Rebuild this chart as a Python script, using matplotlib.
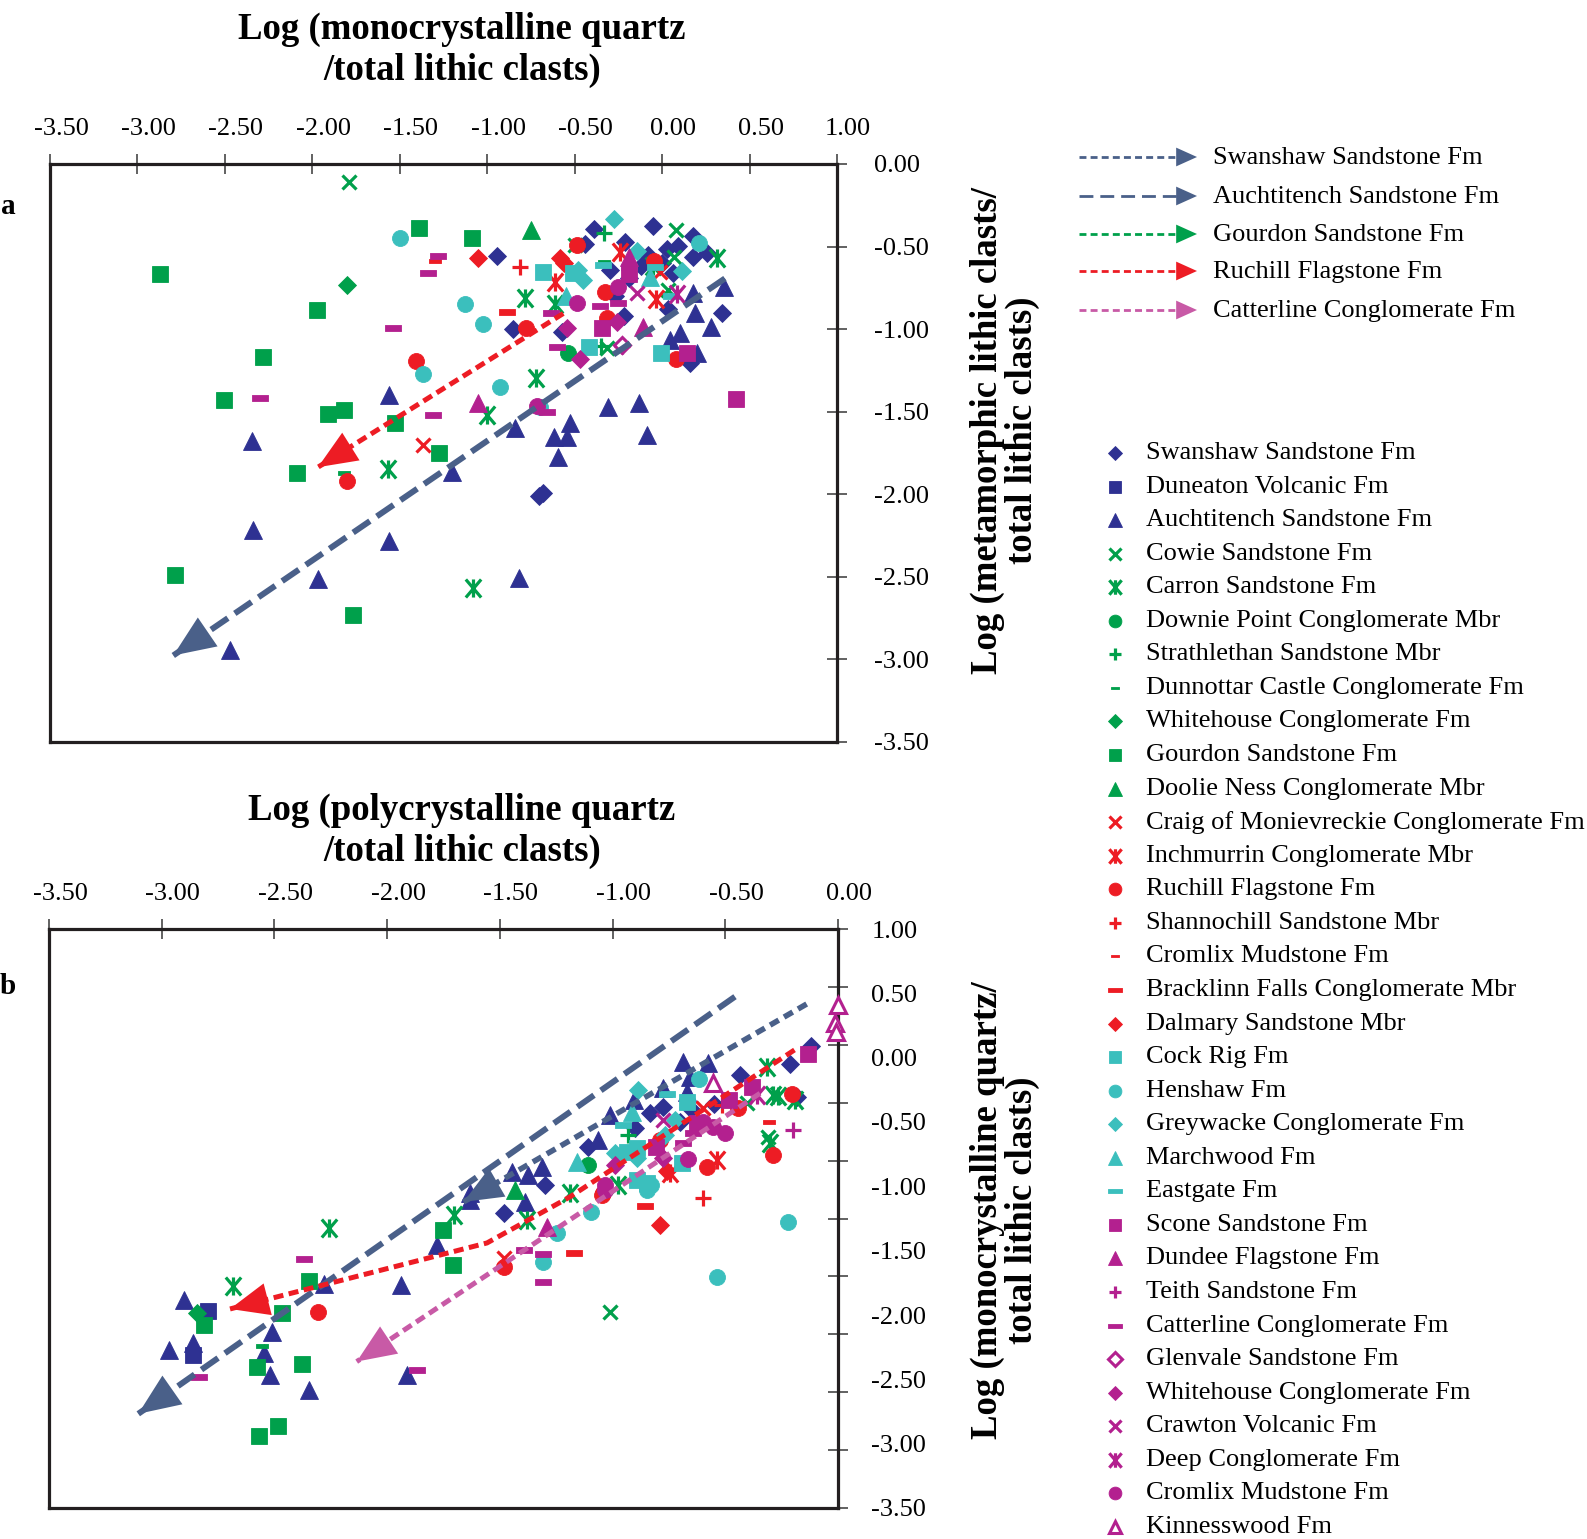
import numpy as np
import matplotlib
matplotlib.use('Agg')
import matplotlib.pyplot as plt
from matplotlib.path import Path
from matplotlib.transforms import ScaledTranslation

plt.rcParams['font.family'] = ['Liberation Serif', 'DejaVu Serif']

NAVY = '#2e3192'
GREEN = '#00a04b'
RED = '#ed1c24'
CYAN = '#3bbfbd'
MAGENTA = '#b3208f'
SLATE = '#4a6089'
PINK = '#c85aa6'

DASH = Path([(-1, -0.32), (1, -0.32), (1, 0.32), (-1, 0.32), (-1, -0.32)],
            [Path.MOVETO, Path.LINETO, Path.LINETO, Path.LINETO, Path.CLOSEPOLY])
# x with a vertical bar through it
AST = Path([(-0.85, -1), (0.85, 1), (-0.85, 1), (0.85, -1), (0, -1), (0, 1)],
           [Path.MOVETO, Path.LINETO, Path.MOVETO, Path.LINETO, Path.MOVETO, Path.LINETO])

# ---- panel a: log(Qm/Lt) vs log(Lm/Lt) ----
swanshaw_a = [(-0.943, -0.558), (-0.388, -0.396), (-0.44, -0.487), (-0.212, -0.47), (-0.051, -0.376),
              (0.178, -0.436), (0.092, -0.497), (0.026, -0.517), (0.178, -0.562), (0.255, -0.541),
              (0.035, -0.875), (0.342, -0.905), (0.159, -1.208), (-0.851, -1.002), (-0.574, -1.016),
              (-0.706, -2.01), (-0.68, -1.99), (-0.19, -0.69), (-0.12, -0.62), (0.0, -0.60),
              (-0.30, -0.64), (-0.08, -0.55), (0.06, -0.66), (-0.27, -0.80), (-0.22, -0.92)]
auchtitench_a = [(-2.345, -1.68), (-1.56, -1.40), (-1.20, -1.865), (-2.34, -2.218), (-1.562, -2.283),
                 (-1.966, -2.51), (-2.47, -2.945), (-0.817, -2.505), (-0.62, -1.653), (-0.546, -1.653),
                 (-0.594, -1.774), (-0.085, -1.642), (-0.307, -1.47), (-0.131, -1.45), (-0.841, -1.60),
                 (-0.527, -1.568), (0.178, -0.784), (0.355, -0.744), (0.188, -0.90), (0.279, -0.986),
                 (0.102, -1.022), (0.045, -1.067), (0.197, -1.147)]
cowie_a = [(-1.79, -0.107), (0.079, -0.40), (0.07, -0.566), (0.035, -0.764), (-0.317, -1.117), (-0.50, -0.49)]
carron_a = [(-1.566, -1.844), (-1.08, -2.566), (-0.784, -0.81), (-0.613, -0.845), (-0.721, -1.295),
            (-1.0, -1.517), (0.315, -0.572), (-0.05, -0.62)]
downie_a = [(-0.537, -1.143)]
strathlethan_a = [(-0.333, -0.42), (-0.35, -1.10)]
dunnottar_a = [(-0.333, -0.592), (-1.82, -1.87)]
whitehouse_g_a = [(-1.80, -0.73)]
gourdon_a = [(-1.39, -0.39), (-2.87, -0.667), (-1.975, -0.885), (-2.28, -1.17), (-2.505, -1.43),
             (-1.91, -1.515), (-1.817, -1.49), (-1.53, -1.57), (-1.276, -1.753), (-2.086, -1.87),
             (-2.785, -2.49), (-1.77, -2.733), (-1.089, -0.45)]
doolie_a = [(-0.752, -0.40)]
craig_a = [(-1.366, -1.70), (-0.012, -0.653)]
inchmurrin_a = [(-0.613, -0.713), (-0.241, -0.531), (-0.035, -0.818)]
ruchill_a = [(-1.41, -1.19), (-1.80, -1.92), (-0.778, -0.992), (-0.489, -0.49), (-0.045, -0.588),
             (-0.327, -0.774), (-0.317, -0.935), (0.077, -1.178)]
shannochill_a = [(-0.813, -0.626)]
cromlix_r_a = [(-1.30, -0.59)]
bracklinn_a = [(-0.885, -0.895)]
dalmary_a = [(-1.051, -0.568), (-0.584, -0.572), (-0.56, -0.60)]
cockrig_a = [(-0.68, -0.653), (-0.508, -0.663), (-0.416, -1.111), (-0.006, -1.143)]
henshaw_a = [(-1.50, -0.447), (-1.37, -1.27), (-1.127, -0.85), (-1.022, -0.966), (-0.927, -1.353),
             (0.212, -0.477), (-0.70, -1.47)]
greywacke_a = [(-0.273, -0.333), (-0.142, -0.527), (-0.48, -0.642), (-0.45, -0.703), (0.112, -0.648)]
marchwood_a = [(-0.07, -0.687), (-0.55, -0.80)]
eastgate_a = [(-0.34, -0.612), (-0.188, -0.622), (-0.041, -0.622), (0.05, -0.80)]
scone_a = [(-0.188, -0.669), (-0.346, -0.996), (0.14, -1.143), (0.422, -1.426)]
dundee_a = [(-0.188, -0.562), (-0.108, -0.986), (-1.051, -1.45)]
teith_a = [(-0.232, -1.10)]
catterline_a = [(-1.34, -0.66), (-1.28, -0.56), (-1.54, -0.996), (-2.30, -1.416), (-1.31, -1.52),
                (-0.637, -0.90), (-0.355, -0.86), (-0.25, -0.844), (-0.603, -1.107), (-0.66, -1.50)]
glenvale_a = [(-0.232, -1.097)]
whitehouse_m_a = [(-0.26, -0.956), (-0.542, -0.992), (-0.47, -1.178)]
crawton_a = [(-0.146, -0.784)]
deep_a = [(0.083, -0.79)]
cromlix_m_a = [(-0.25, -0.744), (-0.485, -0.84), (-0.717, -1.467)]

# ---- panel b: log(Qp/Lt) vs log(Qm/Lt) ----
swanshaw_b = [(-0.212, -0.049), (-0.434, -0.134), (-0.834, -0.432), (-0.775, -0.381), (-1.107, -0.691),
              (-1.3, -0.99), (-1.481, -1.209), (-0.55, -0.36), (-0.183, -0.303), (-0.12, 0.09),
              (-0.65, -0.40), (-0.90, -0.55), (-0.70, -0.50)]
duneaton_b = [(-2.796, -1.968), (-2.86, -2.31)]
auchtitench_b = [(-0.686, -0.031), (-0.575, -0.044), (-1.011, -0.445), (-1.063, -0.64), (-0.907, -0.329),
                 (-0.775, -0.238), (-0.656, -0.148), (-0.671, -0.264), (-1.447, -0.886), (-1.373, -0.911),
                 (-1.314, -0.847), (-1.632, -1.05), (-1.632, -1.106), (-1.388, -1.119), (-1.78, -1.455),
                 (-2.279, -1.761), (-1.938, -1.766), (-2.9, -1.883), (-2.509, -2.129), (-2.545, -2.297),
                 (-2.968, -2.271), (-2.86, -2.219), (-2.52, -2.465), (-2.345, -2.582), (-1.913, -2.465)]
cowie_b = [(-0.405, -0.354), (-0.309, -0.614), (-1.011, -1.974)]
carron_b = [(-0.316, -0.07), (-0.287, -0.29), (-0.265, -0.30), (-0.19, -0.33), (-0.974, -0.99),
            (-1.189, -1.054), (-1.703, -1.222), (-1.381, -1.261), (-2.256, -1.326), (-2.682, -1.772),
            (-0.30, -0.66)]
downie_b = [(-1.107, -0.834)]
strathlethan_b = [(-0.93, -0.60)]
dunnottar_b = [(-2.554, -2.238)]
whitehouse_g_b = [(-2.845, -1.981)]
gourdon_b = [(-1.753, -1.339), (-1.706, -1.611), (-2.348, -1.735), (-2.468, -1.986), (-2.811, -2.077),
             (-2.579, -2.408), (-2.378, -2.382), (-2.567, -2.939), (-2.483, -2.862)]
doolie_b = [(-1.433, -1.028)]
craig_b = [(-0.597, -0.393), (-1.481, -1.56)]
inchmurrin_b = [(-0.538, -0.795), (-0.745, -0.898)]
ruchill_b = [(-0.442, -0.393), (-0.205, -0.285), (-0.289, -0.756), (-0.582, -0.847), (-0.789, -0.64),
             (-1.041, -1.054), (-1.481, -1.629), (-2.308, -1.974), (-1.048, -1.067)]
shannochill_b = [(-0.516, -0.367), (-0.597, -1.092)]
cromlix_r_b = [(-0.304, -0.497)]
bracklinn_b = [(-1.171, -1.515), (-0.856, -1.152)]
dalmary_b = [(-0.789, -1.30), (-0.76, -0.88)]
cockrig_b = [(-0.671, -0.342), (-0.693, -0.821), (-0.893, -0.95), (-0.848, -0.976), (-0.937, -0.73),
             (-0.893, -0.704)]
henshaw_b = [(-0.615, -0.168), (-0.83, -0.99), (-1.097, -1.197), (-1.248, -1.364), (-1.31, -1.585),
             (-0.848, -1.028), (-0.22, -1.274), (-0.538, -1.706)]
greywacke_b = [(-0.886, -0.251), (-0.723, -0.484), (-0.767, -0.601), (-0.989, -0.743), (-0.893, -0.782)]
marchwood_b = [(-0.915, -0.42), (-1.159, -0.808)]
eastgate_b = [(-0.76, -0.285), (-0.952, -0.523)]
scone_b = [(-0.134, 0.029), (-0.382, -0.225), (-0.483, -0.329), (-0.627, -0.51), (-0.807, -0.691)]
dundee_b = [(-1.292, -1.313)]
teith_b = [(-0.201, -0.562)]
catterline_b = [(-2.367, -1.564), (-2.835, -2.479), (-1.869, -2.426), (-1.393, -1.494), (-1.31, -1.525),
                (-1.31, -1.741), (-0.642, -0.588), (-0.686, -0.665)]
glenvale_b = []
whitehouse_m_b = [(-0.775, -0.782), (-0.989, -0.834)]
crawton_b = [(-0.775, -0.484)]
deep_b = [(-0.36, -0.29)]
cromlix_m_b = [(-0.597, -0.497), (-0.553, -0.536), (-0.501, -0.583), (-0.664, -0.79), (-1.033, -0.99),
               (-1.033, -1.028)]
kinnesswood_b = [(-0.002, 0.41), (-0.013, 0.267), (-0.008, 0.202), (-0.553, -0.199)]

# trend arrows (tail ... tip)
auchtitench_trend_a = [(0.359, -0.693), (-2.795, -2.976)]
ruchill_trend_a = [(-0.565, -0.905), (-1.968, -1.836)]
auchtitench_trend_b = [(-0.457, 0.474), (-3.104, -2.768)]
swanshaw_trend_b = [(-0.139, 0.417), (-1.661, -1.121)]
ruchill_trend_b = [(-0.193, 0.06), (-1.189, -1.082), (-1.557, -1.44), (-2.697, -1.953)]
catterline_trend_b = [(-0.346, -0.277), (-2.135, -2.362)]

trend_names = ['Swanshaw Sandstone Fm', 'Auchtitench Sandstone Fm', 'Gourdon Sandstone Fm',
               'Ruchill Flagstone Fm', 'Catterline Conglomerate Fm']

# label, marker, colour, size, filled, panel a, panel b
series = [
    ('Swanshaw Sandstone Fm', 'D', NAVY, 9.5, True, swanshaw_a, swanshaw_b),
    ('Duneaton Volcanic Fm', 's', NAVY, 11.5, True, [], duneaton_b),
    ('Auchtitench Sandstone Fm', '^', NAVY, 12.5, True, auchtitench_a, auchtitench_b),
    ('Cowie Sandstone Fm', 'x', GREEN, 10, True, cowie_a, cowie_b),
    ('Carron Sandstone Fm', AST, GREEN, 13, True, carron_a, carron_b),
    ('Downie Point Conglomerate Mbr', 'o', GREEN, 11.5, True, downie_a, downie_b),
    ('Strathlethan Sandstone Mbr', '+', GREEN, 11, True, strathlethan_a, strathlethan_b),
    ('Dunnottar Castle Conglomerate Fm', DASH, GREEN, 8, True, dunnottar_a, dunnottar_b),
    ('Whitehouse Conglomerate Fm', 'D', GREEN, 9.5, True, whitehouse_g_a, whitehouse_g_b),
    ('Gourdon Sandstone Fm', 's', GREEN, 11.5, True, gourdon_a, gourdon_b),
    ('Doolie Ness Conglomerate Mbr', '^', GREEN, 12.5, True, doolie_a, doolie_b),
    ('Craig of Monievreckie Conglomerate Fm', 'x', RED, 10, True, craig_a, craig_b),
    ('Inchmurrin Conglomerate Mbr', AST, RED, 13, True, inchmurrin_a, inchmurrin_b),
    ('Ruchill Flagstone Fm', 'o', RED, 11.5, True, ruchill_a, ruchill_b),
    ('Shannochill Sandstone Mbr', '+', RED, 11, True, shannochill_a, shannochill_b),
    ('Cromlix Mudstone Fm', DASH, RED, 8, True, cromlix_r_a, cromlix_r_b),
    ('Bracklinn Falls Conglomerate Mbr', DASH, RED, 12, True, bracklinn_a, bracklinn_b),
    ('Dalmary Sandstone Mbr', 'D', RED, 9.5, True, dalmary_a, dalmary_b),
    ('Cock Rig Fm', 's', CYAN, 11.5, True, cockrig_a, cockrig_b),
    ('Henshaw Fm', 'o', CYAN, 11.5, True, henshaw_a, henshaw_b),
    ('Greywacke Conglomerate Fm', 'D', CYAN, 9.5, True, greywacke_a, greywacke_b),
    ('Marchwood Fm', '^', CYAN, 12.5, True, marchwood_a, marchwood_b),
    ('Eastgate Fm', DASH, CYAN, 12, True, eastgate_a, eastgate_b),
    ('Scone Sandstone Fm', 's', MAGENTA, 11.5, True, scone_a, scone_b),
    ('Dundee Flagstone Fm', '^', MAGENTA, 12.5, True, dundee_a, dundee_b),
    ('Teith Sandstone Fm', '+', MAGENTA, 11, True, teith_a, teith_b),
    ('Catterline Conglomerate Fm', DASH, MAGENTA, 12, True, catterline_a, catterline_b),
    ('Glenvale Sandstone Fm', 'D', MAGENTA, 9.5, False, glenvale_a, glenvale_b),
    ('Whitehouse Conglomerate Fm', 'D', MAGENTA, 9.5, True, whitehouse_m_a, whitehouse_m_b),
    ('Crawton Volcanic Fm', 'x', MAGENTA, 10, True, crawton_a, crawton_b),
    ('Deep Conglomerate Fm', AST, MAGENTA, 13, True, deep_a, deep_b),
    ('Cromlix Mudstone Fm', 'o', MAGENTA, 11.5, True, cromlix_m_a, cromlix_m_b),
    ('Kinnesswood Fm', '^', MAGENTA, 12.5, False, [], kinnesswood_b),
]

W, H = 1587, 1539
fig = plt.figure(figsize=(W / 100, H / 100), dpi=100)


def draw_marker(ax, xs, ys, marker, color, ms, filled, scale=1.0):
    ms = ms * scale
    if marker is AST:
        ax.plot(xs, ys, ls='none', marker=marker, ms=ms, mfc='none', mec=color, mew=2.3,
                clip_on=False, zorder=3)
    elif marker in ('x', '+'):
        ax.plot(xs, ys, ls='none', marker=marker, ms=ms, mec=color, mew=2.3, clip_on=False, zorder=3)
    elif filled:
        ax.plot(xs, ys, ls='none', marker=marker, ms=ms, mfc=color, mec=color, mew=0.6,
                clip_on=False, zorder=3)
    else:
        ax.plot(xs, ys, ls='none', marker=marker, ms=ms * 0.9, mfc='white', mec=color, mew=2.2,
                clip_on=False, zorder=3)


def trend(ax, pts, color, lw, dashes, head=30):
    xs, ys = zip(*pts)
    ax.plot(xs, ys, color=color, lw=lw, ls=(0, dashes), solid_capstyle='butt',
            dash_capstyle='butt', clip_on=False, zorder=4)
    ax.annotate('', xy=pts[-1], xytext=pts[-2],
                arrowprops=dict(arrowstyle='-|>,head_length=1.0,head_width=0.42',
                                mutation_scale=head, color=color, lw=0,
                                shrinkA=0, shrinkB=0), zorder=5)


def style_axes(ax):
    for sp in ax.spines.values():
        sp.set_linewidth(2.3)
        sp.set_color('#231f20')
    ax.xaxis.tick_top()
    ax.yaxis.tick_right()
    ax.tick_params(axis='both', which='major', direction='inout', length=15, width=1.3,
                   color='#555555', labelsize=19, pad=10)
    ax.tick_params(axis='y', which='major', pad=19)
    off = ScaledTranslation(11 / 100, 0, fig.dpi_scale_trans)
    for lab in ax.get_xticklabels():
        lab.set_transform(lab.get_transform() + off)


def fmt(v):
    return '0.00' if abs(v) < 1e-9 else f'{v:.2f}'


# legend / annotation layer in pixel coordinates
lg = fig.add_axes([0, 0, 1, 1])
lg.set_xlim(0, W)
lg.set_ylim(H, 0)
lg.axis('off')

# panel a
ax1 = fig.add_axes([50 / W, 1 - 742 / H, 787 / W, 578 / H])
ax1.set_xlim(-3.5, 1.0)
ax1.set_ylim(-3.5, 0.0)
xt_a = [-3.5, -3.0, -2.5, -2.0, -1.5, -1.0, -0.5, 0.0, 0.5, 1.0]
yt_a = [0.0, -0.5, -1.0, -1.5, -2.0, -2.5, -3.0, -3.5]
ax1.set_xticks(xt_a)
ax1.set_xticklabels([fmt(v) for v in xt_a])
ax1.set_yticks(yt_a)
ax1.set_yticklabels([fmt(v) for v in yt_a])
style_axes(ax1)

# panel b
ax2 = fig.add_axes([49 / W, 1 - 1508 / H, 789 / W, 579 / H])
ax2.set_xlim(-3.5, 0.0)
ax2.set_ylim(-3.5, 1.0)
xt_b = [-3.5, -3.0, -2.5, -2.0, -1.5, -1.0, -0.5, 0.0]
ax2.set_xticks(xt_b)
ax2.set_xticklabels([fmt(v) for v in xt_b])
yl_b = [1.0, 0.5, 0.0, -0.5, -1.0, -1.5, -2.0, -2.5, -3.0, -3.5]
ax2.yaxis.remove_overlapping_locs = False
ax2.set_yticks(np.linspace(1.0, -3.5, 11))
ax2.set_yticklabels([])
ax2.set_yticks(yl_b, minor=True)
ax2.set_yticklabels([fmt(v) for v in yl_b], minor=True)
style_axes(ax2)
ax2.tick_params(axis='y', which='minor', length=0, pad=24, labelsize=19)
ax2.tick_params(axis='x', which='minor', length=0)

for label, mk, col, ms, filled, pa, pb in series:
    for ax, pts in ((ax1, pa), (ax2, pb)):
        if pts:
            xs, ys = zip(*pts)
            draw_marker(ax, xs, ys, mk, col, ms, filled)

trend(ax1, auchtitench_trend_a, SLATE, 4.3, (3.4, 1.4), head=30)
trend(ax1, ruchill_trend_a, RED, 3.6, (2.0, 1.1), head=28)
trend(ax2, auchtitench_trend_b, SLATE, 4.3, (3.4, 1.4), head=30)
trend(ax2, swanshaw_trend_b, SLATE, 4.0, (1.8, 1.1), head=28)
trend(ax2, ruchill_trend_b, RED, 3.6, (2.0, 1.1), head=28)
trend(ax2, catterline_trend_b, PINK, 3.6, (2.0, 1.1), head=28)

# titles and axis labels
fig.text(462 / W, 1 - 50 / H, 'Log (monocrystalline quartz\n/total lithic clasts)', ha='center',
         va='center', fontsize=26.5, fontweight='bold', linespacing=1.2)
fig.text(462 / W, 1 - 831 / H, 'Log (polycrystalline quartz\n/total lithic clasts)', ha='center',
         va='center', fontsize=26.5, fontweight='bold', linespacing=1.2)
fig.text(1005 / W, 1 - 430 / H, 'Log (metamorphic lithic clasts/\ntotal lithic clasts)', rotation=90,
         ha='center', va='center', multialignment='center', fontsize=26.5, fontweight='bold',
         linespacing=1.0)
fig.text(1005 / W, 1 - 1210 / H, 'Log (monocrystalline quartz/\ntotal lithic clasts)', rotation=90,
         ha='center', va='center', multialignment='center', fontsize=26.5, fontweight='bold',
         linespacing=1.0)
fig.text(8 / W, 1 - 207 / H, 'a', ha='center', va='center', fontsize=21, fontweight='bold')
fig.text(8 / W, 1 - 987 / H, 'b', ha='center', va='center', fontsize=21, fontweight='bold')

# trend legend
trend_cols = [SLATE, SLATE, GREEN, RED, PINK]
trend_dash = [(2.5, 1.5), (5.0, 2.5), (2.5, 1.5), (2.5, 1.5), (2.5, 1.5)]
trend_y = [157, 196, 234, 271, 310]
for name, col, dsh, y in zip(trend_names, trend_cols, trend_dash, trend_y):
    lg.plot([1079, 1182], [y, y], color=col, lw=2.0, ls=(0, dsh), dash_capstyle='butt')
    lg.annotate('', xy=(1197, y), xytext=(1175, y),
                arrowprops=dict(arrowstyle='-|>,head_length=1.0,head_width=0.45',
                                mutation_scale=15, color=col, lw=0, shrinkA=0, shrinkB=0))
    lg.text(1213, y + 1, name, va='center', ha='left', fontsize=19)

# marker legend
for i, (label, mk, col, ms, filled, pa, pb) in enumerate(series):
    y = 453 + i * 33.56
    draw_marker(lg, [1115], [y], mk, col, ms, filled, scale=0.8)
    lg.text(1146, y, label, va='center', ha='left', fontsize=19)

fig.savefig('out.png', dpi=100)
